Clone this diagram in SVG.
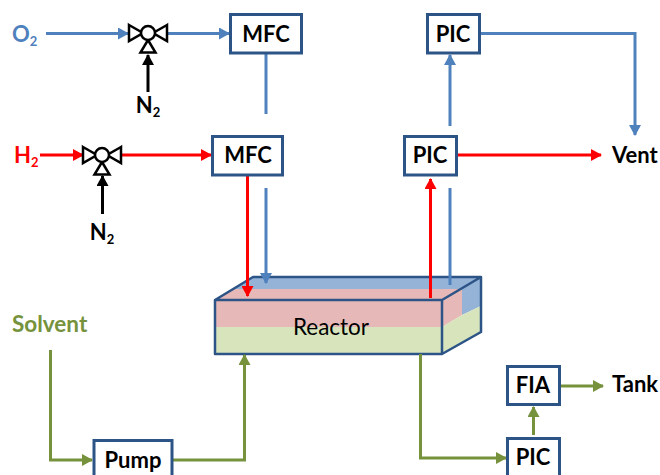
<svg xmlns="http://www.w3.org/2000/svg" width="660" height="475" viewBox="0 0 660 475">
<style>
text{font-family:Lato,"Open Sans","Liberation Sans",sans-serif;font-weight:700;font-size:22px;fill:#000}
.sub{font-size:13px}
.box{fill:#fff;stroke:#2C5487;stroke-width:3}
.c{fill:none;stroke-width:3}
.b{stroke:#4F81BD}.r{stroke:#FF0000}.g{stroke:#76923C}.k{stroke:#000}
.v{fill:#fff;stroke:#000;stroke-width:2.5}
.lb{text-anchor:middle}
</style>
<defs>
<marker id="ab" markerUnits="userSpaceOnUse" markerWidth="11" markerHeight="12" refX="10" refY="6" orient="auto"><path d="M0 0L11 6L0 12Z" fill="#4F81BD"/></marker>
<marker id="ar" markerUnits="userSpaceOnUse" markerWidth="11" markerHeight="12" refX="10" refY="6" orient="auto"><path d="M0 0L11 6L0 12Z" fill="#FF0000"/></marker>
<marker id="ag" markerUnits="userSpaceOnUse" markerWidth="11" markerHeight="12" refX="10" refY="6" orient="auto"><path d="M0 0L11 6L0 12Z" fill="#76923C"/></marker>
<marker id="ak" markerUnits="userSpaceOnUse" markerWidth="11" markerHeight="12" refX="10" refY="6" orient="auto"><path d="M0 0L11 6L0 12Z" fill="#000"/></marker>
<g id="valve"><path class="v" d="M-19 -8L-5 0L-19 8Z"/><path class="v" d="M19 -8L5 0L19 8Z"/><path class="v" d="M0 7L7.500 19.500H-7.500Z"/><circle class="v" r="7"/></g>
</defs>
<g id="reactor">
<path d="M215 300L253 277H481V306L462 315V289H233Z" fill="#95B3D7"/>
<path d="M215 300L233 289H462V315L442 327H215Z" fill="#E6B8B7"/>
<path d="M215 327H442L462 315L481 306V332L442 354H215Z" fill="#D7E4BC"/>
<path d="M215 300H442V354H215ZM215 300L253 277H481L442 300M481 277V332L442 354" fill="none" stroke="#2C5487" stroke-width="2.5" stroke-linejoin="round"/>
<text x="331" y="335" class="lb" style="font-weight:400;font-size:22.500px">Reactor</text>
</g>
<g id="connectors">
<path class="c b" d="M46 33.500H128" marker-end="url(#ab)"/>
<path class="c b" d="M168 33.500H229" marker-end="url(#ab)"/>
<path class="c b" d="M266 53V114"/>
<path class="c b" d="M266 188V283" marker-end="url(#ab)"/>
<path class="c b" d="M450 285V188"/>
<path class="c b" d="M450 126V55" marker-end="url(#ab)"/>
<path class="c b" d="M479 33.500H635V135" marker-end="url(#ab)"/>
<path class="c r" d="M40 155H83" marker-end="url(#ar)"/>
<path class="c r" d="M122 155H211" marker-end="url(#ar)"/>
<path class="c r" d="M247.500 175V296" marker-end="url(#ar)"/>
<path class="c r" d="M430.500 298V179" marker-end="url(#ar)"/>
<path class="c r" d="M456 155H601" marker-end="url(#ar)"/>
<path class="c k" d="M148 92V55" marker-end="url(#ak)"/>
<path class="c k" d="M102.500 214V176" marker-end="url(#ak)"/>
<path class="c g" d="M50.500 350V460H92" marker-end="url(#ag)"/>
<path class="c g" d="M172 460H244.500V355" marker-end="url(#ag)"/>
<path class="c g" d="M420.500 354V458H506" marker-end="url(#ag)"/>
<path class="c g" d="M533.500 435V407" marker-end="url(#ag)"/>
<path class="c g" d="M560 386H603" marker-end="url(#ag)"/>
</g>
<use id="valve-o2" href="#valve" x="148" y="33"/>
<use id="valve-h2" href="#valve" x="102" y="155"/>
<g id="o2"><text x="12" y="42" style="fill:#4F81BD">O<tspan class="sub" dy="4">2</tspan></text></g>
<g id="h2"><text x="14" y="163" style="fill:#FF0000">H<tspan class="sub" dy="4">2</tspan></text></g>
<g id="n2a"><text x="148" y="113" class="lb">N<tspan class="sub" dy="4">2</tspan></text></g>
<g id="n2b"><text x="102" y="240" class="lb">N<tspan class="sub" dy="4">2</tspan></text></g>
<g id="mfc1"><rect class="box" x="230.500" y="14.500" width="71" height="38.500"/><text x="266" y="42" class="lb">MFC</text></g>
<g id="mfc2"><rect class="box" x="212.500" y="136.500" width="70" height="38.500"/><text x="248" y="163" class="lb">MFC</text></g>
<g id="pic1"><rect class="box" x="427.500" y="14.500" width="52" height="38.500"/><text x="453" y="42" class="lb">PIC</text></g>
<g id="pic2"><rect class="box" x="404.500" y="136.500" width="52" height="38.500"/><text x="430" y="163" class="lb">PIC</text></g>
<g id="fia"><rect class="box" x="507.500" y="366.500" width="52" height="38"/><text x="533" y="393" class="lb">FIA</text></g>
<g id="pic3"><rect class="box" x="507.500" y="438.500" width="52" height="40"/><text x="533" y="465" class="lb">PIC</text></g>
<g id="pump"><rect class="box" x="94" y="440.500" width="78" height="38"/><text x="133" y="468" class="lb">Pump</text></g>
<g id="vent"><text x="612" y="163">Vent</text></g>
<g id="tank"><text x="612" y="392">Tank</text></g>
<g id="solvent"><text x="12" y="332" style="fill:#76923C;font-size:22.500px">Solvent</text></g>
</svg>
